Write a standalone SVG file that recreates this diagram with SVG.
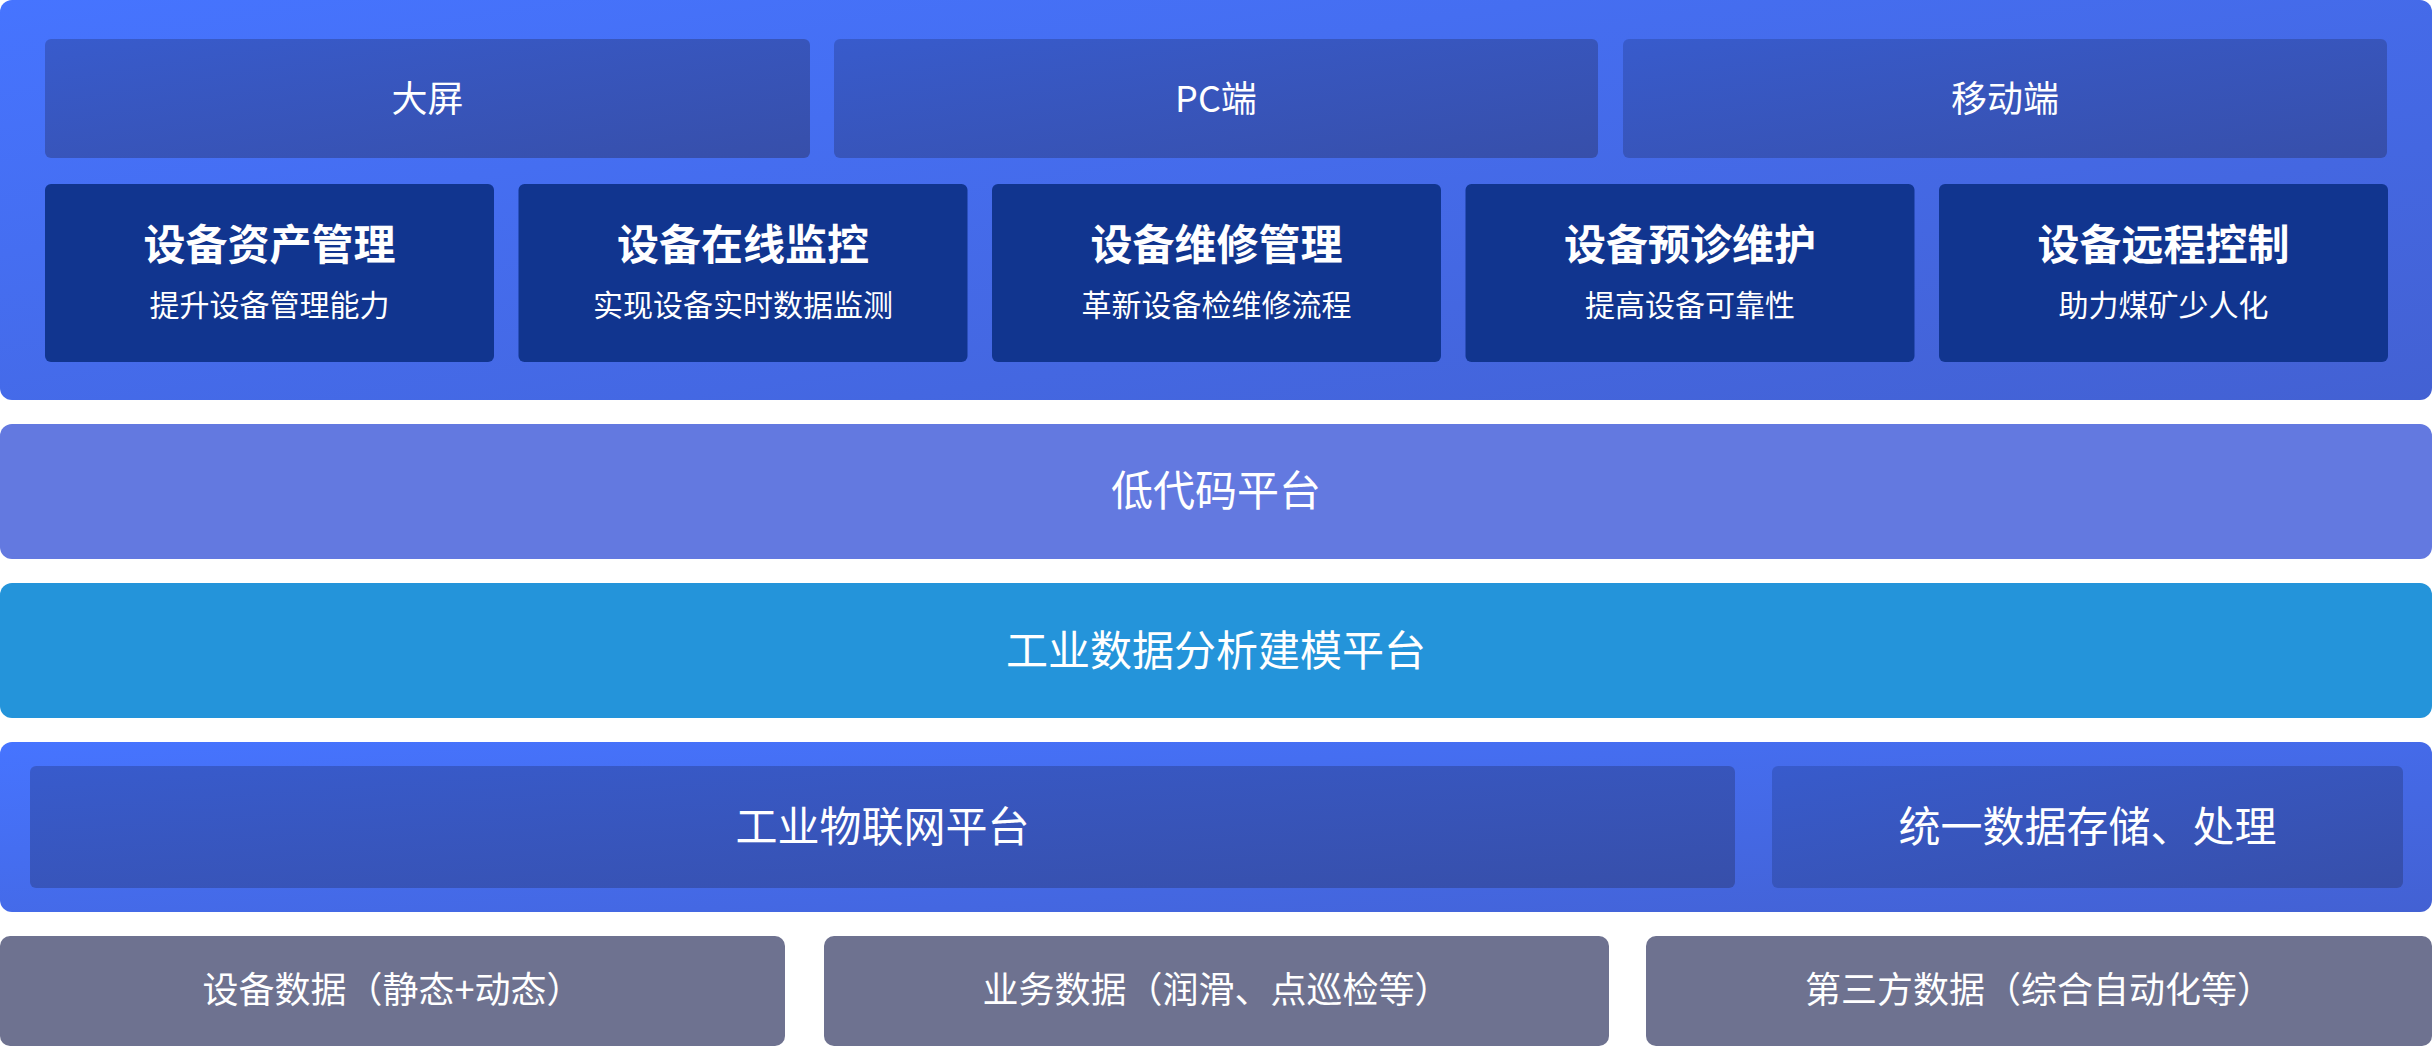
<svg xmlns="http://www.w3.org/2000/svg" width="2433" height="1047" viewBox="0 0 2433 1047">
  <defs>
    <linearGradient id="gOuter" x1="0" y1="0" x2="1" y2="1">
      <stop offset="0" stop-color="#4674FF"/>
      <stop offset="1" stop-color="#4361D3"/>
    </linearGradient>
    <linearGradient id="gSub" x1="0" y1="0" x2="1" y2="1">
      <stop offset="0" stop-color="#385BCC"/>
      <stop offset="1" stop-color="#374FAA"/>
    </linearGradient>
    <style>
      text { font-family: "Noto Sans CJK SC", "Noto Sans", sans-serif; fill: #FFFFFF; text-anchor: middle; }
      .outer { fill: url(#gOuter); }
      .sub { fill: url(#gSub); }
      .mod { fill: #11358F; }
      .lowcode { fill: #6379E0; }
      .analytics { fill: #2494DA; }
      .data { fill: #6E7290; }
      .t36 { font-size: 36px; font-weight: 400; }
      .t42 { font-size: 42px; font-weight: 400; }
      .head { font-size: 42px; font-weight: 700; }
      .subt { font-size: 30px; font-weight: 400; }
    </style>
  </defs>

  <g id="app-layer">
    <rect class="outer" x="0" y="0" width="2432" height="400" rx="12"/>
    <g id="node-daping">
      <rect class="sub" x="45" y="39" width="765" height="119" rx="6"/>
      <text class="t36" x="427.5" y="112">大屏</text>
    </g>
    <g id="node-pc">
      <rect class="sub" x="834" y="39" width="764" height="119" rx="6"/>
      <text class="t36" x="1216" y="112">PC端</text>
    </g>
    <g id="node-mobile">
      <rect class="sub" x="1623" y="39" width="764" height="119" rx="6"/>
      <text class="t36" x="2005" y="112">移动端</text>
    </g>
    <g id="node-asset">
      <rect class="mod" x="45" y="184" width="449" height="178" rx="6"/>
      <text class="head" x="269.5" y="260">设备资产管理</text>
      <text class="subt" x="269.5" y="316">提升设备管理能力</text>
    </g>
    <g id="node-monitor">
      <rect class="mod" x="518.5" y="184" width="449" height="178" rx="6"/>
      <text class="head" x="743" y="260">设备在线监控</text>
      <text class="subt" x="743" y="316">实现设备实时数据监测</text>
    </g>
    <g id="node-maintain">
      <rect class="mod" x="992" y="184" width="449" height="178" rx="6"/>
      <text class="head" x="1216.5" y="260">设备维修管理</text>
      <text class="subt" x="1216.5" y="316">革新设备检维修流程</text>
    </g>
    <g id="node-predict">
      <rect class="mod" x="1465.5" y="184" width="449" height="178" rx="6"/>
      <text class="head" x="1690" y="260">设备预诊维护</text>
      <text class="subt" x="1690" y="316">提高设备可靠性</text>
    </g>
    <g id="node-remote">
      <rect class="mod" x="1939" y="184" width="449" height="178" rx="6"/>
      <text class="head" x="2163.5" y="260">设备远程控制</text>
      <text class="subt" x="2163.5" y="316">助力煤矿少人化</text>
    </g>
  </g>

  <g id="node-lowcode">
    <rect class="lowcode" x="0" y="424" width="2432" height="135" rx="12"/>
    <text class="t42" x="1216" y="506">低代码平台</text>
  </g>

  <g id="node-analytics">
    <rect class="analytics" x="0" y="583" width="2432" height="135" rx="12"/>
    <text class="t42" x="1216" y="666">工业数据分析建模平台</text>
  </g>

  <g id="iot-layer">
    <rect class="outer" x="0" y="742" width="2432" height="170" rx="12"/>
    <g id="node-iot">
      <rect class="sub" x="30" y="766" width="1705" height="122" rx="6"/>
      <text class="t42" x="882.5" y="842">工业物联网平台</text>
    </g>
    <g id="node-storage">
      <rect class="sub" x="1772" y="766" width="631" height="122" rx="6"/>
      <text class="t42" x="2087.5" y="842">统一数据存储、处理</text>
    </g>
  </g>

  <g id="node-device-data">
    <rect class="data" x="0" y="936" width="785" height="110" rx="10"/>
    <text class="t36" x="392.5" y="1003">设备数据（静态+动态）</text>
  </g>
  <g id="node-business-data">
    <rect class="data" x="824" y="936" width="785" height="110" rx="10"/>
    <text class="t36" x="1216.5" y="1003">业务数据（润滑、点巡检等）</text>
  </g>
  <g id="node-third-data">
    <rect class="data" x="1646" y="936" width="786" height="110" rx="10"/>
    <text class="t36" x="2039" y="1003">第三方数据（综合自动化等）</text>
  </g>

  <g id="connectors"></g>
</svg>
